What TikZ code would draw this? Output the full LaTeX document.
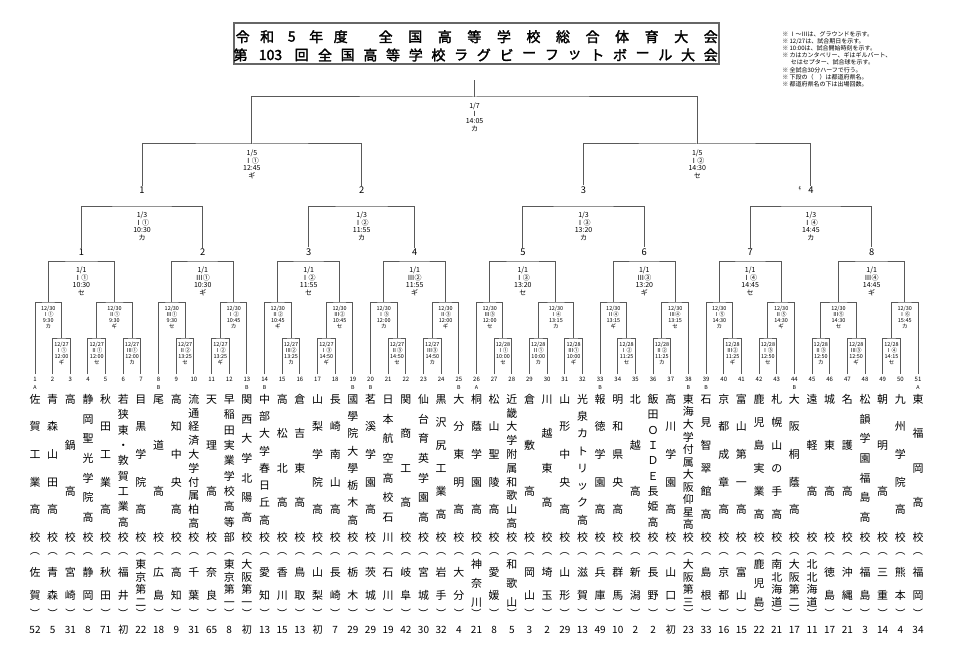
\documentclass[tikz,border=0pt]{standalone}
\usepackage{fontspec}
\setmainfont{Noto Sans CJK JP}
\newfontfamily\titlefont[FakeBold=2]{Noto Sans CJK JP}
\usetikzlibrary{calc}
\makeatletter
\newcommand\vchars[2]{\vbox to #1{\offinterlineskip\vc@loop#2\relax\unskip}}
\def\vc@loop#1{\ifx#1\relax\else\hbox to 1em{\hss\vrule height .88em depth .12em width 0pt\relax #1\hss}\vfill\expandafter\vc@loop\fi}
\makeatother
\tikzset{
  br/.style={draw=black!65, line width=0.75pt},
  lblS/.style={anchor=north, yshift=-2.7pt, align=center, inner sep=0, font=\fontsize{4.1}{4.65}\selectfont},
  lblL/.style={anchor=north, yshift=-4.5pt, align=center, inner sep=0, font=\fontsize{5.25}{5.6}\selectfont},
  num/.style={font=\fontsize{4.5}{4.5}\selectfont, inner xsep=0.5pt, inner ysep=1.8pt},
  seed/.style={font=\fontsize{4}{4}\selectfont, inner sep=0},
  rlab/.style={font=\fontsize{7}{7}\selectfont, inner sep=0.6pt},
  nm/.style={anchor=north, inner sep=0, font=\fontsize{8.2}{8.2}\selectfont},
  pp/.style={inner sep=0, font=\fontsize{7.6}{7.6}\selectfont},
  cnt/.style={inner sep=0, font=\fontsize{7.5}{7.5}\selectfont},
  tt/.style={inner sep=0, font=\titlefont\fontsize{10.5}{10.5}\selectfont},
  nt/.style={inner sep=0, anchor=west, font=\fontsize{4.5}{4.5}\selectfont},
}
\newcommand\mymatch[6]{%
  \coordinate (#1) at ($(#2 |- 0,#4)!.5!(#3 |- 0,#4)$);
  \draw[br] (#2) |- (#1) -| (#3);
  \node[#5] (#1l) at (#1) {#6};
}
\newcommand\team[6]{%
  \node[nm] (t#1) at (n#1 |- 0,393.5) {\vchars{110.7pt}{#2}};
  \node[pp] (o#1) at (n#1 |- 0,554) {︵};
  \node[nm] (p#1) at (n#1 |- 0,#6) {\vchars{#5}{#3}};
  \node[pp] (c#1) at (n#1 |- 0,613) {︶};
  \node[cnt] (k#1) at (n#1 |- 0,630) {#4};
}
\newcommand\tmS[4]{\team{#1}{#2}{#3}{#4}{24.47pt}{566.5}}
\newcommand\tmL[4]{\team{#1}{#2}{#3}{#4}{35.72pt}{558.5}}
\begin{document}
\begin{tikzpicture}[x=0.75pt,y=-0.75pt]
\fill[white] (0,0) rectangle (959,663);
\useasboundingbox (0,0) rectangle (959,663);
% title
\draw[draw=black!60, line width=1pt] (234,23) rectangle (719,64);
\foreach \c [count=\k from 0] in {令,和,5,年,度}
  \node[tt] (ta\k) at ({242.7+\k*24.5},36.7) {\c};
\foreach \c [count=\k from 0] in {全,国,高,等,学,校,総,合,体,育,大,会}
  \node[tt] (tb\k) at ({385.7+\k*29.55},36.7) {\c};
\node[tt] (tc0) at (240.5,55) {第};
\node[tt] (tc1) at (270.5,55) {103};
\node[tt] (tc2) at (301.7,55) {回};
\foreach \c [count=\k from 0] in {全,国,高,等,学,校,ラ,グ,ビ,ー,フ,ッ,ト,ボ,ー,ル,大,会}
  \node[tt] (td\k) at ({325+\k*22.69},55) {\c};
% notes
\node[nt] (nt1) at (782,34.3) {※\ Ⅰ～Ⅲは、グラウンドを示す。};
\node[nt] (nt2) at (782,41.4) {※\ 12/27は、試合期日を示す。};
\node[nt] (nt3) at (782,48.5) {※\ 10:00は、試合開始時刻を示す。};
\node[nt] (nt4) at (782,55.6) {※\ カはカンタベリー、ギはギルバート、};
\node[nt] (nt5) at (790.5,62.7) {セはセプター、試合球を示す。};
\node[nt] (nt6) at (782,69.8) {※\ 全試合30分ハーフで行う。};
\node[nt] (nt7) at (782,76.9) {※\ 下段の（　）は都道府県名。};
\node[nt] (nt8) at (782,84) {※\ 都道府県名の下は出場回数。};
% leaves
\foreach \i in {1,...,51}{
  \pgfmathsetmacro\xx{35+(\i-1)*17.66}
  \node[num] (n\i) at (\xx,379) {\i};
}
\foreach \i/\s in {1/A,8/B,13/B,14/B,19/B,20/B,25/B,26/A,33/B,38/B,39/B,44/B,51/A}
  \node[seed] (s\i) at (n\i |- 0,388) {\s};
% group A
\mymatch{a1}{n2.north}{n3.north}{338}{lblS}{12/27\\Ⅰ①\\12:00\\ギ}
\mymatch{a2}{n4.north}{n5.north}{338}{lblS}{12/27\\Ⅱ①\\12:00\\セ}
\mymatch{a3}{n6.north}{n7.north}{338}{lblS}{12/27\\Ⅲ①\\12:00\\カ}
\mymatch{a4}{n1.north}{a1}{302}{lblS}{12/30\\Ⅰ①\\9:30\\カ}
\mymatch{a5}{a2}{a3}{302}{lblS}{12/30\\Ⅱ①\\9:30\\ギ}
\mymatch{a6}{a4}{a5}{261}{lblL}{1/1\\Ⅰ①\\10:30\\セ}
% group B
\mymatch{b1}{n9.north}{n10.north}{338}{lblS}{12/27\\Ⅱ②\\13:25\\セ}
\mymatch{b2}{n11.north}{n12.north}{338}{lblS}{12/27\\Ⅰ②\\13:25\\ギ}
\mymatch{b3}{n8.north}{b1}{302}{lblS}{12/30\\Ⅲ①\\9:30\\セ}
\mymatch{b4}{b2}{n13.north}{302}{lblS}{12/30\\Ⅰ②\\10:45\\カ}
\mymatch{b5}{b3}{b4}{261}{lblL}{1/1\\Ⅲ①\\10:30\\ギ}
% group C
\mymatch{c1}{n15.north}{n16.north}{338}{lblS}{12/27\\Ⅲ②\\13:25\\カ}
\mymatch{c2}{n17.north}{n18.north}{338}{lblS}{12/27\\Ⅰ③\\14:50\\ギ}
\mymatch{c3}{n14.north}{c1}{302}{lblS}{12/30\\Ⅱ②\\10:45\\ギ}
\mymatch{c4}{c2}{n19.north}{302}{lblS}{12/30\\Ⅲ②\\10:45\\セ}
\mymatch{c5}{c3}{c4}{261}{lblL}{1/1\\Ⅰ②\\11:55\\セ}
% group D
\mymatch{d1}{n21.north}{n22.north}{338}{lblS}{12/27\\Ⅱ③\\14:50\\セ}
\mymatch{d2}{n23.north}{n24.north}{338}{lblS}{12/27\\Ⅲ③\\14:50\\カ}
\mymatch{d3}{n20.north}{d1}{302}{lblS}{12/30\\Ⅰ③\\12:00\\カ}
\mymatch{d4}{d2}{n25.north}{302}{lblS}{12/30\\Ⅱ③\\12:00\\ギ}
\mymatch{d5}{d3}{d4}{261}{lblL}{1/1\\Ⅲ②\\11:55\\ギ}
% group E
\mymatch{e1}{n27.north}{n28.north}{338}{lblS}{12/28\\Ⅰ①\\10:00\\セ}
\mymatch{e2}{n29.north}{n30.north}{338}{lblS}{12/28\\Ⅱ①\\10:00\\カ}
\mymatch{e3}{n31.north}{n32.north}{338}{lblS}{12/28\\Ⅲ①\\10:00\\ギ}
\mymatch{e4}{n26.north}{e1}{302}{lblS}{12/30\\Ⅲ③\\12:00\\セ}
\mymatch{e5}{e2}{e3}{302}{lblS}{12/30\\Ⅰ④\\13:15\\カ}
\mymatch{e6}{e4}{e5}{261}{lblL}{1/1\\Ⅰ③\\13:20\\セ}
% group F
\mymatch{f1}{n34.north}{n35.north}{338}{lblS}{12/28\\Ⅰ②\\11:25\\セ}
\mymatch{f2}{n36.north}{n37.north}{338}{lblS}{12/28\\Ⅱ②\\11:25\\カ}
\mymatch{f3}{n33.north}{f1}{302}{lblS}{12/30\\Ⅱ④\\13:15\\ギ}
\mymatch{f4}{f2}{n38.north}{302}{lblS}{12/30\\Ⅲ④\\13:15\\セ}
\mymatch{f5}{f3}{f4}{261}{lblL}{1/1\\Ⅲ③\\13:20\\ギ}
% group G
\mymatch{g1}{n40.north}{n41.north}{338}{lblS}{12/28\\Ⅲ②\\11:25\\ギ}
\mymatch{g2}{n42.north}{n43.north}{338}{lblS}{12/28\\Ⅰ③\\12:50\\セ}
\mymatch{g3}{n39.north}{g1}{302}{lblS}{12/30\\Ⅰ⑤\\14:30\\カ}
\mymatch{g4}{g2}{n44.north}{302}{lblS}{12/30\\Ⅱ⑤\\14:30\\ギ}
\mymatch{g5}{g3}{g4}{261}{lblL}{1/1\\Ⅰ④\\14:45\\セ}
% group H
\mymatch{h1}{n45.north}{n46.north}{338}{lblS}{12/28\\Ⅱ③\\12:50\\カ}
\mymatch{h2}{n47.north}{n48.north}{338}{lblS}{12/28\\Ⅲ③\\12:50\\ギ}
\mymatch{h3}{n49.north}{n50.north}{338}{lblS}{12/28\\Ⅰ④\\14:15\\セ}
\mymatch{h4}{h1}{h2}{302}{lblS}{12/30\\Ⅲ⑤\\14:30\\セ}
\mymatch{h5}{h3}{n51.north}{302}{lblS}{12/30\\Ⅰ⑥\\15:45\\カ}
\mymatch{h6}{h4}{h5}{261}{lblL}{1/1\\Ⅲ④\\14:45\\ギ}
% round-3 winner labels
\foreach \m/\k in {a6/1,b5/2,c5/3,d5/4,e6/5,f5/6,g5/7,h6/8}
  \node[rlab] (w\k) at (\m |- 0,252) {\k};
% quarter-finals
\mymatch{q1}{w1.north}{w2.north}{206}{lblL}{1/3\\Ⅰ①\\10:30\\カ}
\mymatch{q2}{w3.north}{w4.north}{206}{lblL}{1/3\\Ⅰ②\\11:55\\カ}
\mymatch{q3}{w5.north}{w6.north}{206}{lblL}{1/3\\Ⅰ③\\13:20\\カ}
\mymatch{q4}{w7.north}{w8.north}{206}{lblL}{1/3\\Ⅰ④\\14:45\\カ}
\foreach \m/\k in {q1/1,q2/2,q3/3,q4/4}
  \node[rlab] (v\k) at (\m |- 0,190) {\k};
\node[font=\fontsize{4}{4}\selectfont, inner sep=0] (mk) at (800,189) {ｷ};
% semi-finals and final
\mymatch{s1}{v1.north}{v2.north}{144}{lblL}{1/5\\Ⅰ①\\12:45\\ギ}
\mymatch{s2}{v3.north}{v4.north}{144}{lblL}{1/5\\Ⅰ②\\14:30\\セ}
\mymatch{fin}{s1}{s2}{97}{lblL}{1/7\\Ⅰ\\14:05\\カ}
\coordinate (champ) at (fin |- 0,80);
\draw[br] (fin) -- (champ);
% teams
\tmS{1}{佐賀工業高校}{佐賀}{52}
\tmS{2}{青森山田高校}{青森}{5}
\tmS{3}{高鍋高校}{宮崎}{31}
\tmS{4}{静岡聖光学院高校}{静岡}{8}
\tmS{5}{秋田工業高校}{秋田}{71}
\tmS{6}{若狭東・敦賀工業高校}{福井}{初}
\tmL{7}{目黒学院高校}{東京第二}{22}
\tmS{8}{尾道高校}{広島}{18}
\tmS{9}{高知中央高校}{高知}{9}
\tmS{10}{流通経済大学付属柏高校}{千葉}{31}
\tmS{11}{天理高校}{奈良}{65}
\tmL{12}{早稲田実業学校高等部}{東京第一}{8}
\tmL{13}{関西大学北陽高校}{大阪第一}{初}
\tmS{14}{中部大学春日丘高校}{愛知}{13}
\tmS{15}{高松北高校}{香川}{15}
\tmS{16}{倉吉東高校}{鳥取}{13}
\tmS{17}{山梨学院高校}{山梨}{初}
\tmS{18}{長崎南山高校}{長崎}{7}
\tmS{19}{國學院大學栃木高校}{栃木}{29}
\tmS{20}{茗溪学園高校}{茨城}{29}
\tmS{21}{日本航空高校石川}{石川}{19}
\tmS{22}{関商工高校}{岐阜}{42}
\tmS{23}{仙台育英学園高校}{宮城}{30}
\tmS{24}{黒沢尻工業高校}{岩手}{32}
\tmS{25}{大分東明高校}{大分}{4}
\tmL{26}{桐蔭学園高校}{神奈川}{21}
\tmS{27}{松山聖陵高校}{愛媛}{8}
\tmL{28}{近畿大学附属和歌山高校}{和歌山}{5}
\tmS{29}{倉敷高校}{岡山}{3}
\tmS{30}{川越東高校}{埼玉}{2}
\tmS{31}{山形中央高校}{山形}{29}
\tmS{32}{光泉カトリック高校}{滋賀}{13}
\tmS{33}{報徳学園高校}{兵庫}{49}
\tmS{34}{明和県央高校}{群馬}{10}
\tmS{35}{北越高校}{新潟}{2}
\tmS{36}{飯田ＯＩＤＥ長姫高校}{長野}{2}
\tmS{37}{高川学園高校}{山口}{初}
\tmL{38}{東海大学付属大阪仰星高校}{大阪第三}{23}
\tmS{39}{石見智翠館高校}{島根}{33}
\tmS{40}{京都成章高校}{京都}{16}
\tmS{41}{富山第一高校}{富山}{15}
\tmL{42}{鹿児島実業高校}{鹿児島}{22}
\tmL{43}{札幌山の手高校}{南北海道}{21}
\tmL{44}{大阪桐蔭高校}{大阪第二}{17}
\tmL{45}{遠軽高校}{北北海道}{11}
\tmS{46}{城東高校}{徳島}{17}
\tmS{47}{名護高校}{沖縄}{21}
\tmS{48}{松韻学園福島高校}{福島}{3}
\tmS{49}{朝明高校}{三重}{14}
\tmS{50}{九州学院高校}{熊本}{4}
\tmS{51}{東福岡高校}{福岡}{34}
\end{tikzpicture}
\end{document}
